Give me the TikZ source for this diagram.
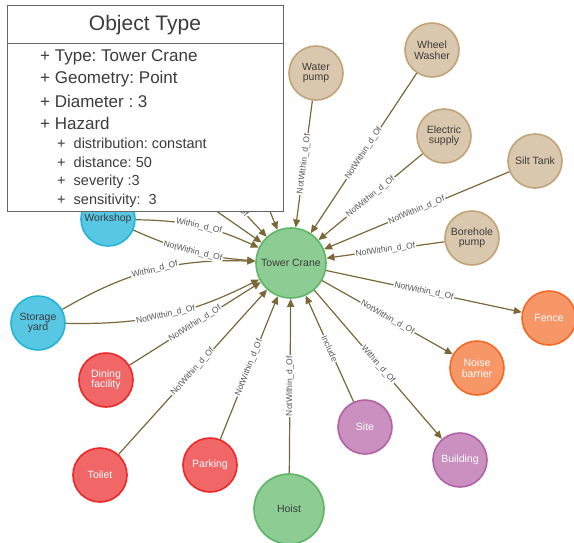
\documentclass[tikz,border=0pt]{standalone}
\usepackage{fontspec}
\setmainfont{Liberation Sans}
\usepackage{xcolor}
\usetikzlibrary{arrows.meta, positioning, calc}

\definecolor{tanfill}{HTML}{D9C8AE}
\definecolor{tanline}{HTML}{C0A378}
\definecolor{greenfill}{HTML}{8DCC93}
\definecolor{greenline}{HTML}{5DB665}
\definecolor{bluefill}{HTML}{57C7E3}
\definecolor{blueline}{HTML}{23B3D7}
\definecolor{redfill}{HTML}{F16667}
\definecolor{redline}{HTML}{EB2728}
\definecolor{orangefill}{HTML}{F79767}
\definecolor{orangeline}{HTML}{F36924}
\definecolor{purplefill}{HTML}{C990C0}
\definecolor{purpleline}{HTML}{B261A5}
\definecolor{relcol}{HTML}{7A6838}
\definecolor{labelcol}{HTML}{555555}
\definecolor{darktext}{HTML}{3C3C3C}

\frenchspacing

\begin{document}
\begin{tikzpicture}[
    x=1pt, y=-1pt,
    ent/.style={circle, draw, line width=1.6pt, minimum size=54pt, inner sep=0pt, align=center, font=\fontsize{10.5}{10.5}\selectfont},
    big/.style={ent, minimum size=70pt},
    tan/.style={fill=tanfill, draw=tanline, text=darktext},
    grn/.style={fill=greenfill, draw=greenline, text=darktext},
    blu/.style={fill=bluefill, draw=blueline, text=darktext},
    rd/.style={fill=redfill, draw=redline, text=white},
    org/.style={fill=orangefill, draw=orangeline, text=white},
    prp/.style={fill=purplefill, draw=purpleline, text=white},
    rel/.style={-{Triangle[length=8pt,width=7pt]}, draw=relcol, line width=1.2pt},
    rl/.style={sloped, fill=white, inner sep=1pt, text=labelcol, font=\fontsize{8.5}{8.5}\selectfont},
    objbox/.style={draw=black!60, line width=1pt, fill=white, minimum width=276pt, minimum height=206pt, inner sep=0pt},
    attr/.style={anchor=west, inner sep=0pt, text=darktext, font=\fontsize{17}{17}\selectfont},
    subattr/.style={anchor=west, inner sep=0pt, text=darktext, font=\fontsize{14.5}{14.5}\selectfont}
]
    \useasboundingbox (0,0) rectangle (574,542);

    % Centre
    \node[big, grn] (crane) at (291,263) {Tower Crane};
    \node[big, grn] (hoist) at (289,509) {Hoist};

    % Utilities - top right
    \node[ent, tan] (pump) at (316,73) {Water\\pump};
    \node[ent, tan] (washer) at (432,50) {Wheel\\Washer};
    \node[ent, tan] (electric) at (444,136) {Electric\\supply};
    \node[ent, tan] (silt) at (535,161) {Silt Tank};
    \node[ent, tan] (borehole) at (472,238) {Borehole\\pump};

    % Boundaries - right
    \node[ent, org] (fence) at (549,318) {Fence};
    \node[ent, org] (noise) at (477,368) {Noise\\barrier};
    \node[ent, prp] (building) at (460,460) {Building};
    \node[ent, prp] (site) at (365,427) {Site};

    % Welfare - bottom left
    \node[ent, rd] (parking) at (210,465) {Parking};
    \node[ent, rd] (toilet) at (100,475) {Toilet};
    \node[ent, rd] (dining) at (106,380) {Dining\\facility};

    % Stores - left
    \node[ent, blu] (storage) at (38,323) {Storage\\yard};
    \node[ent, blu] (workshop) at (108,219) {Workshop};

    % Ends hidden under the box
    \coordinate (hidA) at (100,130);
    \coordinate (hidB) at (186,150);
    \coordinate (hidC) at (245,150);

    % Relations
    \draw[rel] (pump) -- node[rl] {NotWithin\_d\_Of} (crane);
    \draw[rel] (washer) -- node[rl] {NotWithin\_d\_Of} (crane);
    \draw[rel] (electric) -- node[rl] {NotWithin\_d\_Of} (crane);
    \draw[rel] (silt) -- node[rl] {NotWithin\_d\_Of} (crane);
    \draw[rel] (borehole) -- node[rl] {NotWithin\_d\_Of} (crane);
    \draw[rel] (crane) -- node[rl] {NotWithin\_d\_Of} (fence);
    \draw[rel] (crane) -- node[rl] {NotWithin\_d\_Of} (noise);
    \draw[rel] (crane) -- node[rl] {Within\_d\_Of} (building);
    \draw[rel] (site) -- node[rl] {Include} (crane);
    \draw[rel] (hoist) -- node[rl] {NotWithin\_d\_Of} (crane);
    \draw[rel] (parking) -- node[rl] {NotWithin\_d\_Of} (crane);
    \draw[rel] (toilet) -- node[rl] {NotWithin\_d\_Of} (crane);
    \draw[rel] (dining) -- node[rl] {NotWithin\_d\_Of} (crane);
    \draw[rel] (storage) to[bend left=16] node[rl] {Within\_d\_Of} (crane);
    \draw[rel] (storage) to[bend right=14] node[rl] {NotWithin\_d\_Of} (crane);
    \draw[rel] (workshop) to[bend left=12] node[rl] {Within\_d\_Of} (crane);
    \draw[rel] (workshop) to[bend right=10] node[rl] {NotWithin\_d\_Of} (crane);
    \draw[rel] (hidA) -- (crane);
    \draw[rel] (hidB) -- node[rl] {NotWithin\_d\_Of} (crane);
    \draw[rel] (hidC) -- (crane);

    % Object box
    \node[objbox] (box) at (145,108) {};
    \draw[draw=black!60, line width=1pt] ($(box.north west)+(0,39)$) -- ($(box.north east)+(0,39)$);
    \node[text=darktext, font=\fontsize{21}{21}\selectfont] (title) at (145,25) {Object Type};
    \node[attr] (type) at (40,57) {+ Type: Tower Crane};
    \node[attr] (geom) at (40,79) {+ Geometry: Point};
    \node[attr] (diam) at (40,101) {+ Diameter : 3};
    \node[attr] (hazard) at (40,123) {+ Hazard};
    \node[subattr] (distr) at (57,143) {+~~distribution: constant};
    \node[subattr] (dist) at (57,162) {+~~distance: 50};
    \node[subattr] (sev) at (57,182) {+~~severity :3};
    \node[subattr] (sens) at (57,201) {+~~sensitivity:~ 3};
\end{tikzpicture}
\end{document}
